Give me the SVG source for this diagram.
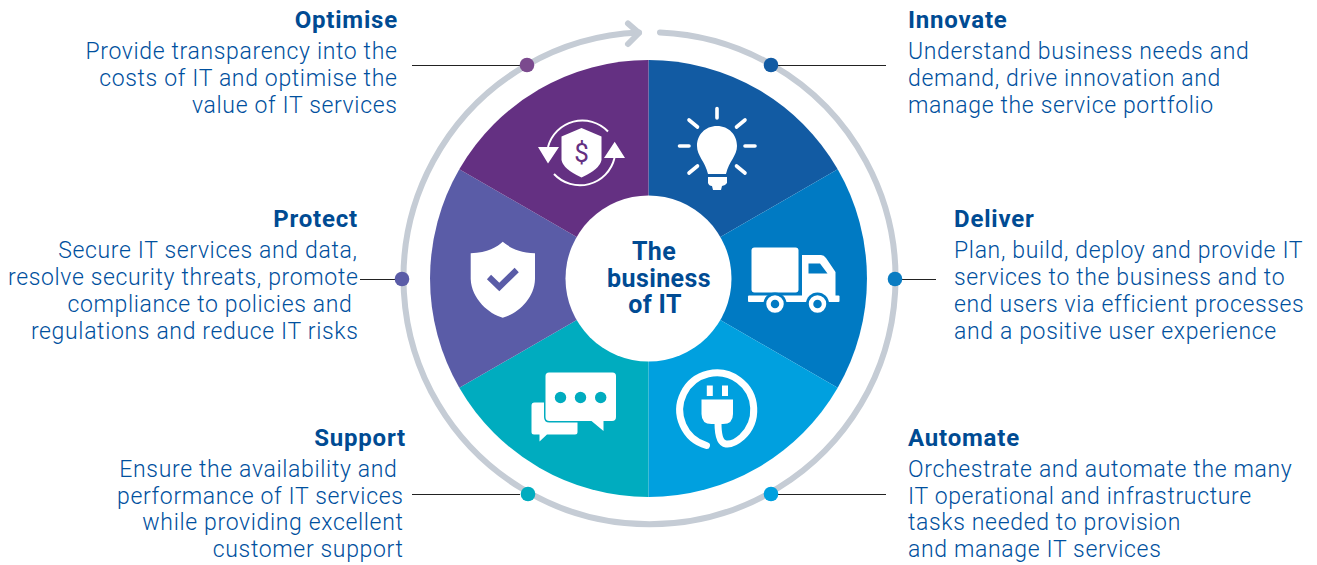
<svg xmlns="http://www.w3.org/2000/svg" width="1317" height="565" viewBox="0 0 1317 565">
<style>
text{font-family:"Roboto","Liberation Sans",Arial,sans-serif}
.t{font-size:24px;font-weight:700;letter-spacing:.8px;fill:#004b93}
.b{font-size:23px;font-weight:300;letter-spacing:.65px;fill:#00509e}
.e{text-anchor:end}
.c{font-size:25px;font-weight:700;letter-spacing:.4px;fill:#004b93;text-anchor:middle}
.l{stroke:#222;stroke-width:1;fill:none}
.w{fill:#fff}
.r{stroke:#fff;stroke-width:3.600;stroke-linecap:round;fill:none}
</style>
<rect width="1317" height="565" fill="#fff"/>
<g id="ring" fill="none" stroke="#c5ccd5" stroke-width="6" stroke-linecap="round" stroke-linejoin="round">
<path d="M660 32.500A246 246 0 1 1 639 32.500"/>
<path d="M628 23.500L639 33L628 44"/>
</g>
<g id="connectors">
<path class="l" d="M412 65.500H520M778 65.500H886M360 279.500H395M902 279.500H936M412 494.500H520M778 494.500H886"/>
</g>
<g id="node-innovate">
<path d="M648.500 278.500V60A218.500 218.500 0 0 1 837.700 169.250Z" fill="#125ba3"/>
<path class="r" d="M717 108.500V118M689 120L697.500 127M745 120L736.500 127M679.500 146H689M745 146H755M689 173L697.500 166M745 173L736.500 166"/>
<path class="w" d="M717 126C705 126 697 135 697 146C697 156 705 161 708 174H726C729 161 737 156 737 146C737 135 729 126 717 126ZM708 177H727V183Q725 186 722 186L721 190H713L712 186Q709 186 708 183Z"/>
<text class="t" x="908" y="28">Innovate</text>
<text class="b" x="908" y="58.500">Understand business needs and</text>
<text class="b" x="908" y="85.500">demand, drive innovation and</text>
<text class="b" x="908" y="113">manage the service portfolio</text>
</g>
<g id="node-deliver">
<path d="M837.700 169.250A218.500 218.500 0 0 1 837.700 387.750L648.500 278.500Z" fill="#007ac3"/>
<rect class="w" x="751.500" y="247.500" width="47" height="45" rx="3"/>
<path class="w" d="M802 255H821Q824 255 826 258L835.500 272V296H802Z"/>
<path d="M808.500 263.500H820L827.500 273.500H808.500Z" fill="#007ac3"/>
<rect class="w" x="748" y="295.500" width="91.500" height="6.500" rx="1"/>
<circle cx="775" cy="304" r="11.500" fill="#007ac3"/><circle cx="817.500" cy="304" r="11.500" fill="#007ac3"/>
<circle cx="775" cy="304" r="6.500" fill="none" stroke="#fff" stroke-width="4.500"/><circle cx="817.500" cy="304" r="6.500" fill="none" stroke="#fff" stroke-width="4.500"/>
<text class="t" x="954" y="227">Deliver</text>
<text class="b" x="954" y="258">Plan, build, deploy and provide IT</text>
<text class="b" x="954" y="285">services to the business and to</text>
<text class="b" x="954" y="312">end users via efficient processes</text>
<text class="b" x="954" y="339">and a positive user experience</text>
</g>
<g id="node-automate">
<path d="M837.700 387.750A218.500 218.500 0 0 1 648.500 497V278.500Z" fill="#00a0df"/>
<path d="M706.500 445.500A37 37 0 1 1 742 437Q733 445 726 444Q718 443 718 423" fill="none" stroke="#fff" stroke-width="7" stroke-linecap="round"/>
<path class="w" d="M701.500 399.500H733V414Q733 424 723 424H711.500Q701.500 424 701.500 414ZM706.800 385.500H712.800V396H706.800ZM722 385.500H728V396H722Z"/>
<text class="t" x="908" y="445.500">Automate</text>
<text class="b" x="908" y="477">Orchestrate and automate the many</text>
<text class="b" x="908" y="504">IT operational and infrastructure</text>
<text class="b" x="908" y="530">tasks needed to provision</text>
<text class="b" x="908" y="557">and manage IT services</text>
</g>
<g id="node-support">
<path d="M648.500 497A218.500 218.500 0 0 1 459.300 387.750L648.500 278.500Z" fill="#00acbf"/>
<path class="w" d="M534.500 402.500H575.500Q577.500 402.500 577.500 404.500V432Q577.500 434.500 575 434.500H547L539.500 441.500V434.500H534Q531.500 434.500 531.500 432V405.500Q531.500 402.500 534.500 402.500Z"/>
<path class="w" d="M549 372.500H612.500Q616 372.500 616 376V417Q616 421 612 421H603.500V431L591.500 421H549.500Q545.500 421 545.500 417V376Q545.500 372.500 549 372.500Z" stroke="#00acbf" stroke-width="3"/>
<path class="w" d="M549 372.500H612.500Q616 372.500 616 376V417Q616 421 612 421H603.500V431L591.500 421H549.500Q545.500 421 545.500 417V376Q545.500 372.500 549 372.500Z"/>
<circle cx="560.500" cy="397.500" r="5.700" fill="#00acbf"/><circle cx="580.500" cy="397.500" r="5.700" fill="#00acbf"/><circle cx="600.700" cy="397.500" r="5.700" fill="#00acbf"/>
<text class="t e" x="406" y="445.500">Support</text>
<text class="b e" x="397.500" y="477">Ensure the availability and</text>
<text class="b e" x="403.500" y="504">performance of IT services</text>
<text class="b e" x="403.500" y="530">while providing excellent</text>
<text class="b e" x="403.500" y="557">customer support</text>
</g>
<g id="node-protect">
<path d="M459.300 387.750A218.500 218.500 0 0 1 459.300 169.250L648.500 278.500Z" fill="#5a5ca7"/>
<path class="w" d="M502.700 241.700C497 247 488 252.500 470.700 253.300V279C471.500 299 489 314 502.700 317.700C517 314 534.500 299 535 279V253.300C518 252.500 509 247 502.700 241.700Z"/>
<path d="M489 277L499.300 287L516.700 270" fill="none" stroke="#5a5ca7" stroke-width="6"/>
<text class="t e" x="358" y="227">Protect</text>
<text class="b e" x="357.500" y="258">Secure IT services and data,</text>
<text class="b e" x="358.500" y="285">resolve security threats, promote</text>
<text class="b e" x="352.500" y="312">compliance to policies and</text>
<text class="b e" x="358.500" y="339">regulations and reduce IT risks</text>
</g>
<g id="node-optimise">
<path d="M459.300 169.250A218.500 218.500 0 0 1 648.500 60V278.500Z" fill="#643082"/>
<path d="M608 131.500A35.500 35.500 0 0 0 548 147M554 174A35.500 35.500 0 0 0 614.500 158" fill="none" stroke="#fff" stroke-width="2"/>
<path class="w" d="M538 147H559L548 163.500ZM604 158H625L614.700 141.700Z"/>
<path class="w" d="M581.500 128L601.500 136.500V160Q600 169 581.500 177.500Q563 169 561.500 160V136.500Z"/>
<text x="581.500" y="161.500" font-size="26" font-weight="400" text-anchor="middle" fill="#643082">$</text>
<text class="t e" x="398" y="28">Optimise</text>
<text class="b e" x="397.500" y="58.500">Provide transparency into the</text>
<text class="b e" x="397.500" y="85.500">costs of IT and optimise the</text>
<text class="b e" x="397.500" y="113">value of IT services</text>
</g>
<g id="node-center">
<circle class="w" cx="648.500" cy="278.500" r="83"/>
<text class="c" x="654" y="260">The</text>
<text class="c" x="659" y="286.500">business</text>
<text class="c" x="655" y="313">of IT</text>
</g>
<g id="markers">
<circle cx="527" cy="65" r="7.300" fill="#7b4a8e"/>
<circle cx="771" cy="65" r="7.300" fill="#125ba3"/>
<circle cx="402" cy="279" r="7.300" fill="#5a5ca7"/>
<circle cx="895" cy="279" r="7.300" fill="#0a7cc2"/>
<circle cx="528" cy="494" r="7.300" fill="#00acbf"/>
<circle cx="771" cy="494" r="7.300" fill="#00a0df"/>
</g>
</svg>
